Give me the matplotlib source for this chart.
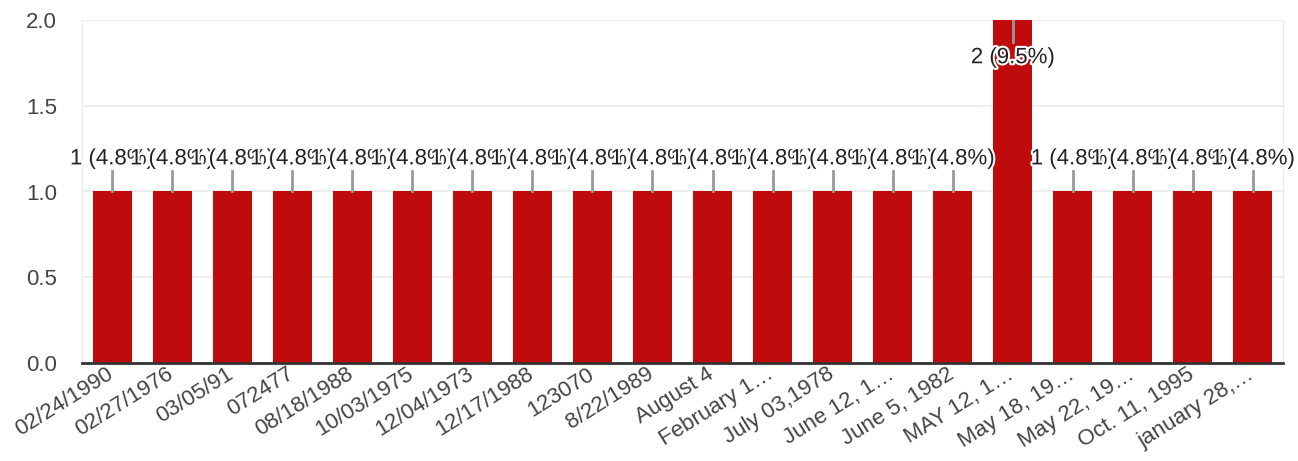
import numpy as np
import matplotlib.pyplot as plt
import matplotlib.patheffects as pe
import matplotlib.transforms as mtransforms

plt.rcParams['font.family'] = ['Liberation Sans', 'DejaVu Sans']

# data
labels = ['02/24/1990', '02/27/1976', '03/05/91', '072477', '08/18/1988',
          '10/03/1975', '12/04/1973', '12/17/1988', '123070', '8/22/1989',
          'August 4', 'February 1\u2026', 'July 03,1978', 'June 12, 1\u2026',
          'June 5, 1982', 'MAY 12, 1\u2026', 'May 18, 19\u2026', 'May 22, 19\u2026',
          'Oct. 11, 1995', 'january 28,\u2026']
counts = [1, 1, 1, 1, 1, 1, 1, 1, 1, 1, 1, 1, 1, 1, 1, 2, 1, 1, 1, 1]
pcts = ['4.8%'] * 15 + ['9.5%'] + ['4.8%'] * 4

BAR = '#bf0b0b'
W, H = 1298, 461

fig = plt.figure(figsize=(W / 100, H / 100), dpi=100)
ax = fig.add_axes([82 / W, (H - 363) / H, (1283 - 82) / W, (363 - 20) / H])

x = np.arange(len(counts))
ax.bar(x, counts, width=0.65, color=BAR, zorder=2)

ax.set_xlim(-0.5, len(counts) - 0.5)
ax.set_ylim(0, 2.0)
ax.set_yticks([0, 0.5, 1.0, 1.5, 2.0])
ax.set_yticklabels(['0.0', '0.5', '1.0', '1.5', '2.0'])
ax.yaxis.grid(True, color='#ebebeb', linewidth=1.2, zorder=0)
ax.set_axisbelow(True)
ax.spines['top'].set_visible(False)
ax.spines['left'].set_color('#ebebeb')
ax.spines['right'].set_color('#ebebeb')
ax.spines['bottom'].set_color('#333333')
ax.spines['bottom'].set_linewidth(2)
ax.tick_params(axis='both', length=0, labelsize=16, colors='#444444')
ax.tick_params(axis='y', pad=18)
ax.set_xticks(x)
ax.set_xticklabels(labels, rotation=32, ha='right', rotation_mode='anchor')
ax.tick_params(axis='x', pad=4)
shift = mtransforms.ScaledTranslation(-6 / 100, 5 / 100, fig.dpi_scale_trans)
for t in ax.get_xticklabels():
    t.set_transform(t.get_transform() + shift)

halo = [pe.withStroke(linewidth=3, foreground='white')]
for i, (c, p) in enumerate(zip(counts, pcts)):
    if c >= 2:
        ax.plot([i, i], [c, c - 0.13], color='#999999', lw=2, zorder=3)
        ax.text(i, c - 0.22, '%d (%s)' % (c, p), ha='center', va='center',
                fontsize=16, color='#222222', path_effects=halo, zorder=4 + i)
    else:
        ax.plot([i, i], [c, c + 0.12], color='#999999', lw=2, zorder=3)
        ax.text(i, c + 0.19, '%d (%s)' % (c, p), ha='center', va='center',
                fontsize=16, color='#222222', path_effects=halo, zorder=4 + i)

fig.savefig('out.png', dpi=100)
